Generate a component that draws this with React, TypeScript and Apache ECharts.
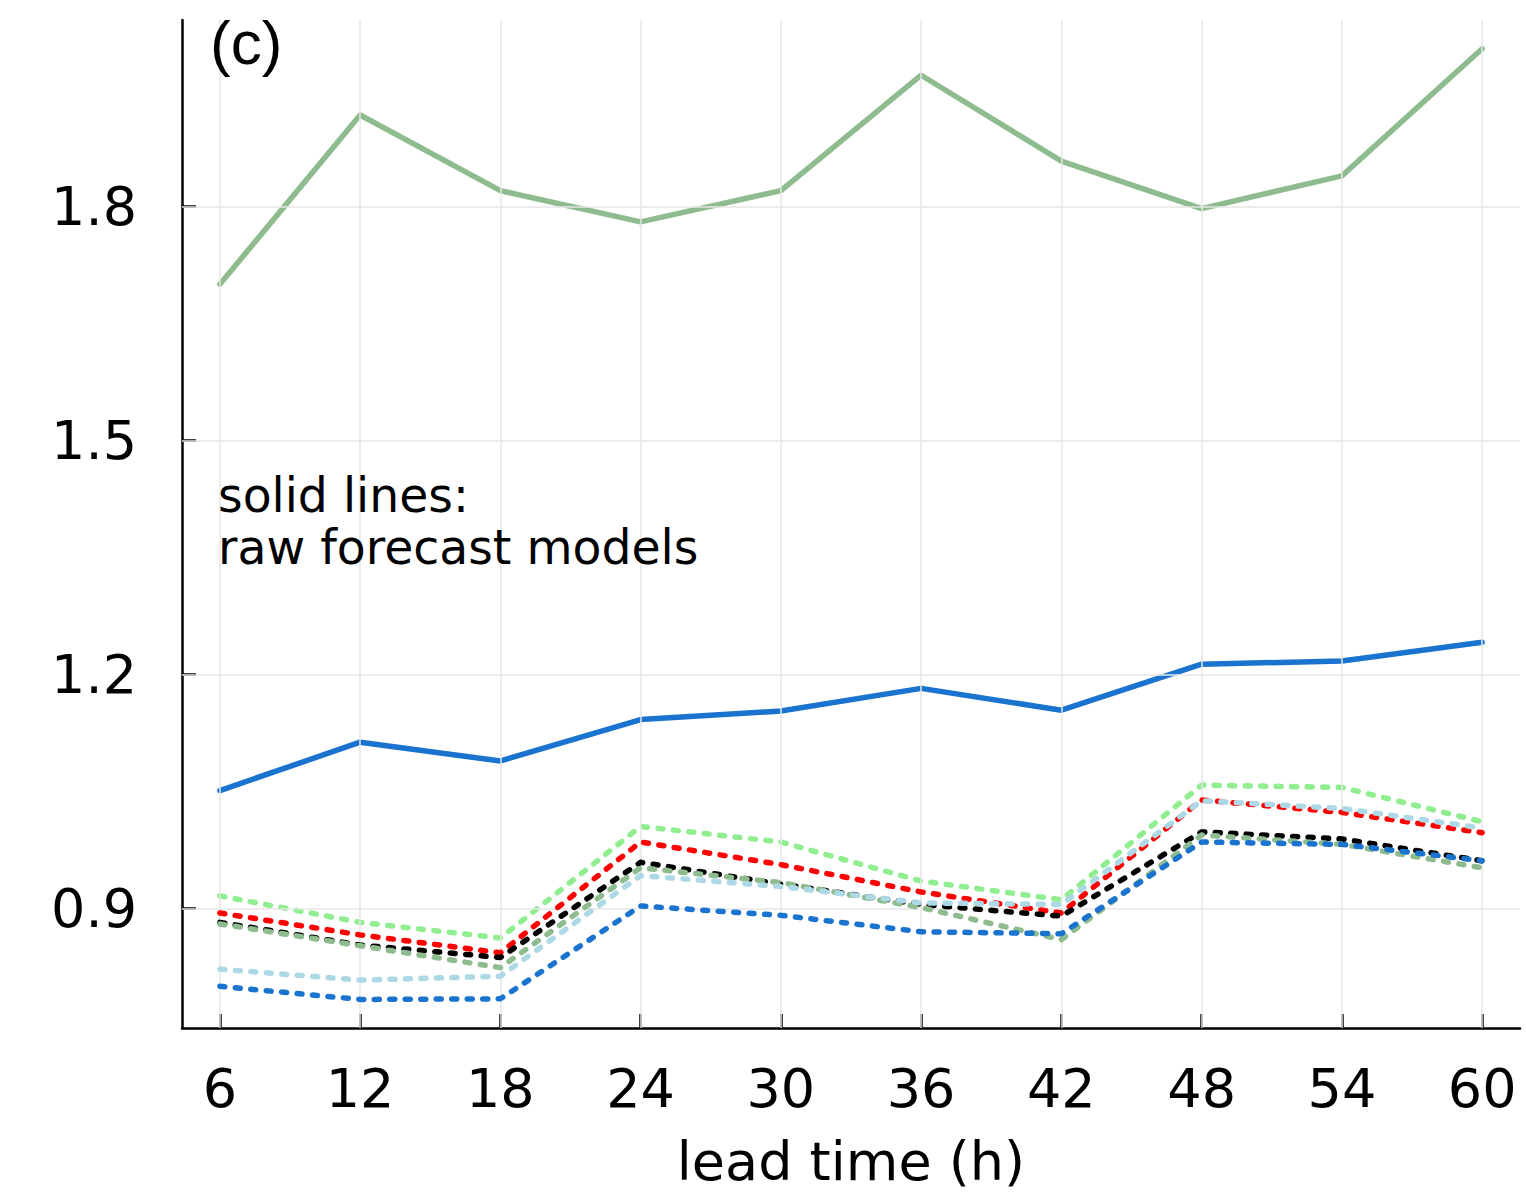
import React, { useEffect, useRef } from "react";
import * as echarts from "echarts";

const leadTimes = [6, 12, 18, 24, 30, 36, 42, 48, 54, 60];
const yTicks = [0.9, 1.2, 1.5, 1.8];

// solid lines: raw forecast models
const rawGreen = [1.7, 1.917, 1.82, 1.78, 1.82, 1.968, 1.858, 1.797, 1.839, 2.002];
const rawBlue = [1.051, 1.113, 1.089, 1.142, 1.153, 1.182, 1.154, 1.213, 1.217, 1.241];

// dotted lines
const dotLightGreen = [0.916, 0.882, 0.862, 1.005, 0.985, 0.935, 0.911, 1.058, 1.055, 1.011];
const dotRed = [0.894, 0.866, 0.843, 0.985, 0.956, 0.921, 0.894, 1.039, 1.023, 0.997];
const dotBlack = [0.882, 0.853, 0.837, 0.959, 0.931, 0.905, 0.89, 0.998, 0.989, 0.961];
const dotSeaGreen = [0.88, 0.852, 0.824, 0.952, 0.933, 0.901, 0.86, 0.994, 0.982, 0.952];
const dotLightBlue = [0.822, 0.808, 0.813, 0.942, 0.928, 0.907, 0.905, 1.038, 1.028, 1.003];
const dotBlue = [0.8, 0.7832, 0.784, 0.903, 0.891, 0.87, 0.8675, 0.985, 0.982, 0.961];

const pairs = (ys: number[]) => leadTimes.map((x, i) => [x, ys[i]]);

export default function App() {
  const ref = useRef<HTMLDivElement>(null);
  useEffect(() => {
    if (!ref.current) return;
    const chart = echarts.init(ref.current, null, { renderer: "svg" });
    const solid = (name: string, ys: number[], color: string) => ({
      name,
      type: "line",
      data: pairs(ys),
      showSymbol: false,
      symbol: "none",
      z: 3,
      lineStyle: { color, width: 5.5, type: "solid", cap: "round", join: "round" },
    });
    const dotted = (name: string, ys: number[], color: string, z: number) => ({
      name,
      type: "line",
      data: pairs(ys),
      showSymbol: false,
      symbol: "none",
      z,
      lineStyle: { color, width: 5.5, type: [5, 10.5], cap: "round", join: "round" },
    });
    const font = "'DejaVu Sans', sans-serif";
    chart.setOption({
      animation: false,
      backgroundColor: "#ffffff",
      grid: {
        left: 182,
        top: 20,
        width: 1338,
        height: 1008,
        containLabel: false,
        outerBoundsMode: "none",
      },
      xAxis: {
        type: "value",
        min: 4.38,
        max: 61.62,
        name: "lead time (h)",
        nameLocation: "middle",
        nameGap: 133,
        nameTextStyle: {
          fontFamily: font,
          fontSize: 54,
          color: "#000",
          verticalAlign: "middle",
          lineHeight: 56,
        },
        axisLine: { show: true, onZero: false, lineStyle: { color: "#000", width: 2.5 } },
        axisTick: {
          show: true,
          inside: true,
          length: 14,
          customValues: leadTimes,
          lineStyle: { color: "#000", width: 2.5 },
        },
        axisLabel: {
          customValues: leadTimes,
          fontFamily: font,
          fontSize: 54,
          color: "#000",
          margin: 33,
        },
        splitLine: { show: false },
      },
      yAxis: {
        type: "value",
        min: 0.7466,
        max: 2.0388,
        axisLine: { show: true, onZero: false, lineStyle: { color: "#000", width: 2.5 } },
        axisTick: {
          show: true,
          inside: true,
          length: 14,
          customValues: yTicks,
          lineStyle: { color: "#000", width: 2.5 },
        },
        axisLabel: {
          customValues: yTicks,
          fontFamily: font,
          fontSize: 54,
          color: "#000",
          margin: 45,
          formatter: (v: number) => v.toFixed(1),
        },
        splitLine: { show: false },
      },
      graphic: [
        {
          type: "text",
          x: 210,
          y: 42,
          z: 10,
          style: {
            text: "(c)",
            fontFamily: "'Liberation Sans', Arial, sans-serif",
            fontSize: 62,
            fill: "#000",
            align: "left",
            verticalAlign: "middle",
          },
        },
        {
          type: "text",
          x: 218,
          y: 469,
          z: 10,
          style: {
            text: "solid lines:\nraw forecast models",
            fontFamily: font,
            fontSize: 47.3,
            lineHeight: 52,
            fill: "#000",
            align: "left",
            verticalAlign: "top",
          },
        },
      ],
      series: [
        {
          name: "grid",
          type: "line",
          data: [],
          z: 1,
          silent: true,
          markLine: {
            silent: true,
            symbol: ["none", "none"],
            label: { show: false },
            animation: false,
            lineStyle: { color: "#e6e6e6", width: 1.5, type: "solid" },
            data: [
              ...leadTimes.map((x) => ({ xAxis: x })),
              ...yTicks.map((y) => ({ yAxis: y })),
            ],
          },
        },
        solid("raw green", rawGreen, "#8fbc8f"),
        solid("raw blue", rawBlue, "#1a73cf"),
        dotted("light green", dotLightGreen, "#90ee90", 4),
        dotted("red", dotRed, "#ff0000", 5),
        dotted("black", dotBlack, "#000000", 6),
        dotted("sea green", dotSeaGreen, "#8fbc8f", 7),
        dotted("light blue", dotLightBlue, "#add8e6", 8),
        dotted("blue", dotBlue, "#1a73cf", 9),
      ],
    });
    return () => chart.dispose();
  }, []);
  return (
    <div
      ref={ref}
      style={{ position: "fixed", left: 0, top: 0, width: 1526, height: 1195, background: "#fff" }}
    />
  );
}
